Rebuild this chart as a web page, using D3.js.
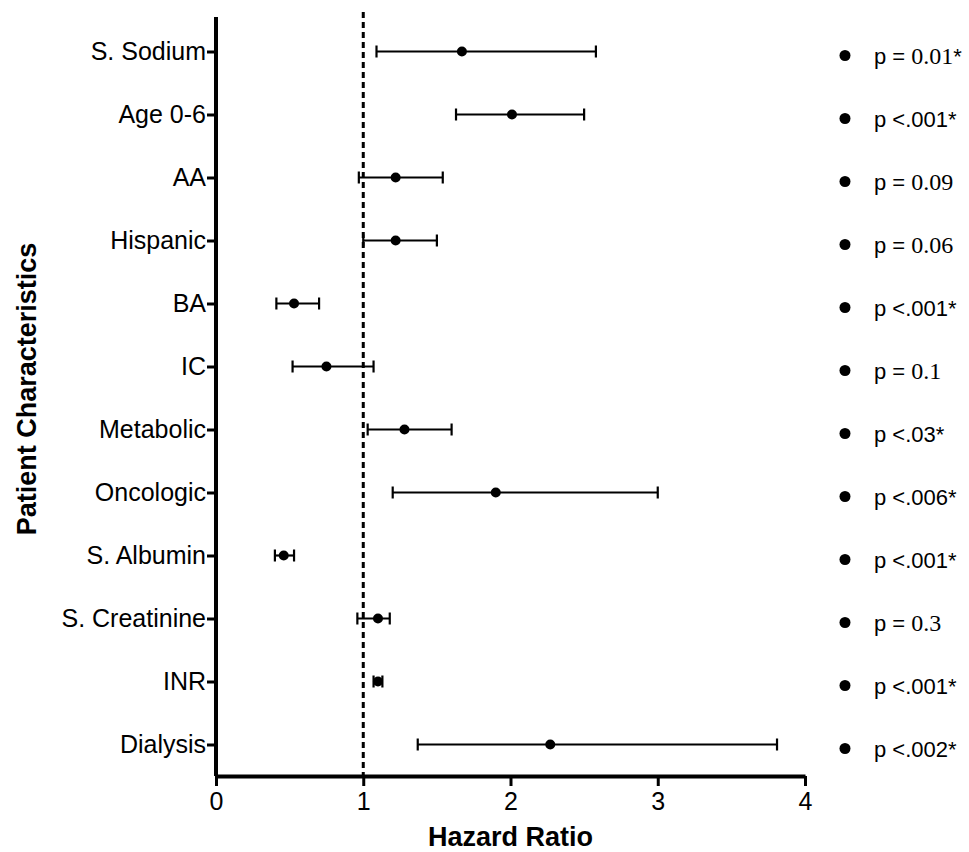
<!DOCTYPE html>
<html>
<head>
<meta charset="utf-8">
<title>Hazard ratio forest plot</title>
<script src="https://d3js.org/d3.v7.min.js"></script>
<style>
  body { margin: 0; background: #fff; }
  svg { display: block; font-family: "Liberation Sans", Arial, sans-serif; }
</style>
</head>
<body>
<svg width="969" height="852"></svg>
<script>
// values
const categories = ["S. Sodium", "Age 0-6", "AA", "Hispanic", "BA", "IC", "Metabolic",
                    "Oncologic", "S. Albumin", "S. Creatinine", "INR", "Dialysis"];
const hazard = [1.67, 2.01, 1.22, 1.22, 0.53, 0.75, 1.28, 1.90, 0.46, 1.10, 1.10, 2.27];
const ciLow  = [1.09, 1.63, 0.97, 1.00, 0.41, 0.52, 1.03, 1.20, 0.40, 0.96, 1.07, 1.37];
const ciHigh = [2.58, 2.50, 1.54, 1.50, 0.70, 1.07, 1.60, 3.00, 0.53, 1.18, 1.13, 3.81];
const pLabels = ["p = 0.01*", "p <.001*", "p = 0.09", "p = 0.06", "p <.001*", "p = 0.1",
                 "p <.03*", "p <.006*", "p <.001*", "p = 0.3", "p <.001*", "p <.002*"];
const xTicks = [0, 1, 2, 3, 4];

const svg = d3.select("svg");

const x = d3.scaleLinear().domain([0, 4]).range([216, 805]);
const y = d3.scalePoint().domain(categories).range([20, 776]).padding(0.5);

const rows = categories.map((c, i) => ({ c: c, hr: hazard[i], lo: ciLow[i], hi: ciHigh[i], p: pLabels[i] }));

// reference line at HR = 1
svg.append("line")
  .attr("x1", x(1)).attr("x2", x(1))
  .attr("y1", 12).attr("y2", 776)
  .attr("stroke", "#000")
  .attr("stroke-width", 3)
  .attr("stroke-dasharray", "6,4");

// axes
const yAxis = svg.append("g")
  .attr("transform", "translate(" + x(0) + ",0)")
  .call(d3.axisLeft(y).tickSize(9).tickSizeOuter(0).tickPadding(1));
yAxis.select(".domain").attr("stroke-width", 4).attr("d", "M0,17V776");
yAxis.selectAll(".tick line").attr("stroke-width", 3);
yAxis.selectAll(".tick text").attr("font-size", 25).attr("fill", "#000")
  .attr("font-family", "Liberation Sans, Arial, sans-serif");

const xAxis = svg.append("g")
  .attr("transform", "translate(0,776)")
  .call(d3.axisBottom(x).tickValues(xTicks).tickFormat(d3.format("d")).tickSize(10).tickSizeOuter(0).tickPadding(6));
xAxis.select(".domain").attr("stroke-width", 4);
xAxis.selectAll(".tick line").attr("stroke-width", 3);
xAxis.selectAll(".tick text").attr("font-size", 25).attr("fill", "#000")
  .attr("font-family", "Liberation Sans, Arial, sans-serif");

// axis titles
svg.append("text")
  .attr("transform", "translate(36,389) rotate(-90)")
  .attr("text-anchor", "middle")
  .attr("font-weight", "bold")
  .attr("font-size", 27)
  .text("Patient Characteristics");

svg.append("text")
  .attr("x", x(2)).attr("y", 846)
  .attr("text-anchor", "middle")
  .attr("font-weight", "bold")
  .attr("font-size", 27)
  .text("Hazard Ratio");

// error bars
const bars = svg.append("g").selectAll("g").data(rows).join("g");
bars.append("line")
  .attr("x1", d => x(d.lo)).attr("x2", d => x(d.hi))
  .attr("y1", d => y(d.c)).attr("y2", d => y(d.c))
  .attr("stroke", "#000").attr("stroke-width", 2.2);
bars.append("line")
  .attr("x1", d => x(d.lo)).attr("x2", d => x(d.lo))
  .attr("y1", d => y(d.c) - 6).attr("y2", d => y(d.c) + 6)
  .attr("stroke", "#000").attr("stroke-width", 2.2);
bars.append("line")
  .attr("x1", d => x(d.hi)).attr("x2", d => x(d.hi))
  .attr("y1", d => y(d.c) - 6).attr("y2", d => y(d.c) + 6)
  .attr("stroke", "#000").attr("stroke-width", 2.2);
bars.append("circle")
  .attr("cx", d => x(d.hr)).attr("cy", d => y(d.c))
  .attr("r", 5).attr("fill", "#000");

// p-value annotations on the right
const notes = svg.append("g").selectAll("g").data(rows).join("g")
  .attr("transform", d => "translate(0," + (y(d.c) + 4) + ")");
notes.append("circle").attr("cx", 845).attr("cy", 0).attr("r", 5.5).attr("fill", "#000");
notes.each(function(d) {
  const t = d3.select(this).append("text")
    .attr("x", 874).attr("y", 8)
    .attr("font-size", 22);
  const m = d.p.match(/^p = ([\d.]+)(\*?)$/);
  if (m) {
    t.append("tspan").text("p = ");
    t.append("tspan").attr("font-family", "Liberation Serif, Times New Roman, serif")
      .attr("font-size", 24).text(m[1]);
    if (m[2]) t.append("tspan").text(m[2]);
  } else {
    t.text(d.p);
  }
});
</script>
</body>
</html>
